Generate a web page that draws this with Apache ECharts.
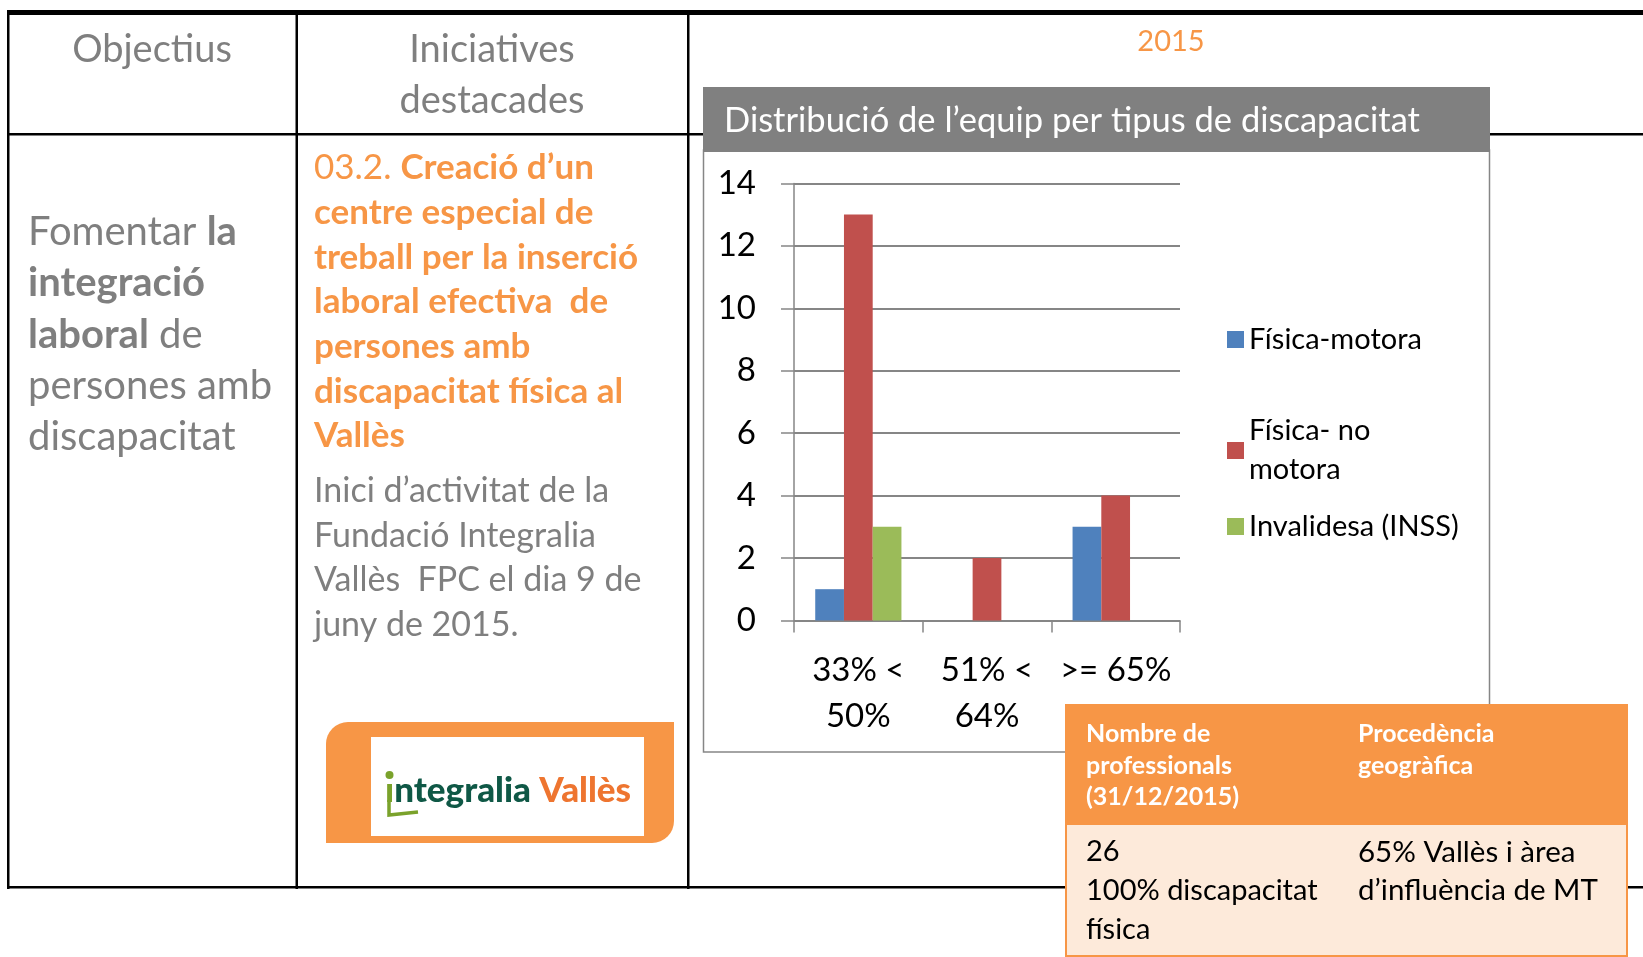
<!DOCTYPE html>
<html><head><meta charset="utf-8">
<script src="https://cdn.jsdelivr.net/npm/echarts@6/dist/echarts.min.js"></script>
<style>html,body{margin:0;padding:0;background:#fff}#c{width:1643px;height:957px}</style>
</head><body><div id="c"></div>
<script>
// ---- data ----
var categories = ['33% <\n50%', '51% <\n64%', '>= 65%'];
var seriesNames = ['Física-motora', 'Física- no motora', 'Invalidesa (INSS)'];
var fisicaMotora = [1, 0, 3];
var fisicaNoMotora = [13, 2, 4];
var invalidesa = [3, 0, 0];
var yTicks = { min: 0, max: 14, interval: 2 };
var chartTitle = 'Distribució de l’equip per tipus de discapacitat';
var yearLabel = '2015';

var FONT = 'Lato, "Open Sans", sans-serif';
var GRAY = '#7f7f7f';
var ORANGE = '#f79646';
var colors = ['#4f81bd', '#c0504d', '#9bbb59'];

function line(x, y, w, h, z) {
  return { type: 'rect', silent: true, z: z || 1, shape: { x: x, y: y, width: w, height: h }, style: { fill: '#000' } };
}
function txt(x, y, text, opts) {
  var s = Object.assign({ x: x, y: y, text: text, fontFamily: FONT, fontSize: 36, fill: GRAY, textAlign: 'left', textVerticalAlign: 'middle' }, opts || {});
  return { type: 'text', silent: true, z: (opts && opts.z) || 3, style: s };
}

var graphics = [];
// table lines
graphics.push(line(7, 10, 1636, 5, 1));
graphics.push(line(7, 10, 2.5, 879, 1));
graphics.push(line(295.5, 10, 2.5, 879, 1));
graphics.push(line(687, 10, 2.5, 879, 1));
graphics.push(line(7, 133, 1636, 2.5, 1));
graphics.push(line(7, 886, 1636, 2.5, 1));

// headers
graphics.push(txt(152, 50, 'Objectius', { fontSize: 38, textAlign: 'center' }));
graphics.push(txt(492, 50, 'Iniciatives', { fontSize: 38, textAlign: 'center' }));
graphics.push(txt(492, 101, 'destacades', { fontSize: 38, textAlign: 'center' }));

// left column
var leftLines = ['{n|Fomentar }{b|la}', '{b|integració}', '{b|laboral}{n| de}', '{n|persones amb}', '{n|discapacitat}'];
leftLines.forEach(function (t, i) {
  graphics.push({ type: 'text', silent: true, z: 3, style: {
    x: 28, y: 232 + i * 51.3, text: t, textVerticalAlign: 'middle',
    rich: {
      n: { fontFamily: FONT, fontSize: 40, fill: GRAY },
      b: { fontFamily: FONT, fontSize: 40, fill: GRAY, fontWeight: 'bold' }
    }
  }});
});

// middle column orange
var midLines = ['{n|03.2. }{b|Creació d’un}', '{b|centre especial de}', '{b|treball per la inserció}', '{b|laboral efectiva  de}', '{b|persones amb}', '{b|discapacitat física al}', '{b|Vallès}'];
midLines.forEach(function (t, i) {
  graphics.push({ type: 'text', silent: true, z: 3, style: {
    x: 314, y: 168 + i * 44.7, text: t, textVerticalAlign: 'middle',
    rich: {
      n: { fontFamily: FONT, fontSize: 35, fill: ORANGE },
      b: { fontFamily: FONT, fontSize: 35, fill: ORANGE, fontWeight: 'bold' }
    }
  }});
});
var grayLines = ['Inici d’activitat de la', 'Fundació Integralia', 'Vallès  FPC el dia 9 de', 'juny de 2015.'];
grayLines.forEach(function (t, i) {
  graphics.push(txt(314, 491 + i * 44.7, t, { fontSize: 34 }));
});

// logo
graphics.push({ type: 'rect', silent: true, z: 3, shape: { x: 326, y: 722, width: 348, height: 121, r: [22, 0, 22, 0] }, style: { fill: ORANGE } });
graphics.push({ type: 'rect', silent: true, z: 4, shape: { x: 371, y: 737, width: 273, height: 99 }, style: { fill: '#fff' } });
graphics.push({ type: 'text', silent: true, z: 5, style: {
  x: 385, y: 791, textVerticalAlign: 'middle',
  text: '{g|ı}{d|ntegralia }{o|Vallès}',
  rich: {
    g: { fontFamily: FONT, fontSize: 35, fontWeight: 900, fill: '#7aa22b' },
    d: { fontFamily: FONT, fontSize: 35, fontWeight: 900, fill: '#0f5846' },
    o: { fontFamily: FONT, fontSize: 35, fontWeight: 900, fill: '#ee7530' }
  }
}});
graphics.push({ type: 'circle', silent: true, z: 5, shape: { cx: 389.5, cy: 775, r: 4 }, style: { fill: '#7aa22b' } });
graphics.push({ type: 'polyline', silent: true, z: 5, shape: { points: [[389, 800], [389, 815], [418, 812]] }, style: { stroke: '#7aa22b', lineWidth: 3.5, fill: null } });

// year
graphics.push(txt(1171, 42, yearLabel, { fontSize: 29, fill: ORANGE, textAlign: 'center' }));

// chart box
graphics.push({ type: 'rect', silent: true, z: 2, shape: { x: 703.5, y: 150, width: 786, height: 602 }, style: { fill: '#fff', stroke: '#868686', lineWidth: 1.5 } });
graphics.push({ type: 'rect', silent: true, z: 2, shape: { x: 703, y: 87, width: 787, height: 65 }, style: { fill: '#808080' } });
graphics.push(txt(724, 121, chartTitle, { fontSize: 34.5, fill: '#fff', z: 3 }));

// orange info table
graphics.push({ type: 'rect', silent: true, z: 10, shape: { x: 1066, y: 705, width: 561, height: 251 }, style: { fill: '#fdeada', stroke: ORANGE, lineWidth: 2 } });
graphics.push({ type: 'rect', silent: true, z: 10, shape: { x: 1065, y: 704, width: 563, height: 121 }, style: { fill: ORANGE } });
var th1 = ['Nombre de', 'professionals', '(31/12/2015)'];
var th2 = ['Procedència', 'geogràfica'];
th1.forEach(function (t, i) { graphics.push(txt(1086, 734 + i * 31.5, t, { fontSize: 25, fontWeight: 'bold', fill: '#fff', z: 11 })); });
th2.forEach(function (t, i) { graphics.push(txt(1358, 734 + i * 31.5, t, { fontSize: 25, fontWeight: 'bold', fill: '#fff', z: 11 })); });
var tb1 = ['26', '100% discapacitat', 'física'];
var tb2 = ['65% Vallès i àrea', 'd’influència de MT'];
tb1.forEach(function (t, i) { graphics.push(txt(1086, 852 + i * 38.8, t, { fontSize: 29, fill: '#000', z: 11 })); });
tb2.forEach(function (t, i) { graphics.push(txt(1358, 852 + i * 38.8, t, { fontSize: 29.5, fill: '#000', z: 11 })); });

var legendText = { fontFamily: FONT, fontSize: 29, color: '#000' };
var chart = echarts.init(document.getElementById('c'), null, { renderer: 'canvas' });
chart.setOption({
  animation: false,
  backgroundColor: '#fff',
  graphic: { elements: graphics },
  grid: { left: 794, top: 183.4, width: 386, height: 437, containLabel: false },
  xAxis: {
    type: 'category', data: categories, z: 5,
    axisLine: { lineStyle: { color: '#868686', width: 1.5 } },
    axisTick: { show: true, length: 12, lineStyle: { color: '#868686', width: 1.5 } },
    axisLabel: { fontFamily: FONT, fontSize: 33, color: '#000', margin: 27, lineHeight: 46, interval: 0 }
  },
  yAxis: {
    type: 'value', min: yTicks.min, max: yTicks.max, interval: yTicks.interval, z: 5,
    axisLine: { show: true, lineStyle: { color: '#868686', width: 1.5 } },
    axisTick: { show: true, length: 13, lineStyle: { color: '#868686', width: 1.5 } },
    splitLine: { lineStyle: { color: '#868686', width: 1.8 } },
    axisLabel: { fontFamily: FONT, fontSize: 33, color: '#000', margin: 38 }
  },
  legend: [
    { data: [{ name: seriesNames[0], icon: 'rect' }], orient: 'vertical', left: 1222, top: 320, itemWidth: 17, itemHeight: 17, itemGap: 0, textStyle: legendText, z: 6 },
    { data: [{ name: seriesNames[1], icon: 'rect' }], orient: 'vertical', left: 1222, top: 387, itemWidth: 17, itemHeight: 17, itemGap: 0, textStyle: Object.assign({}, legendText, { lineHeight: 39, padding: [39, 0, 0, 0] }), formatter: function () { return 'Física- no\nmotora'; }, z: 6 },
    { data: [{ name: seriesNames[2], icon: 'rect' }], orient: 'vertical', left: 1222, top: 507, itemWidth: 17, itemHeight: 17, itemGap: 0, textStyle: legendText, z: 6 }
  ],
  series: [
    { name: seriesNames[0], type: 'bar', data: fisicaMotora, itemStyle: { color: colors[0] }, barGap: '0%', barCategoryGap: '33%', z: 6 },
    { name: seriesNames[1], type: 'bar', data: fisicaNoMotora, itemStyle: { color: colors[1] }, barGap: '0%', barCategoryGap: '33%', z: 6 },
    { name: seriesNames[2], type: 'bar', data: invalidesa, itemStyle: { color: colors[2] }, barGap: '0%', barCategoryGap: '33%', z: 6 }
  ]
});
</script></body></html>
